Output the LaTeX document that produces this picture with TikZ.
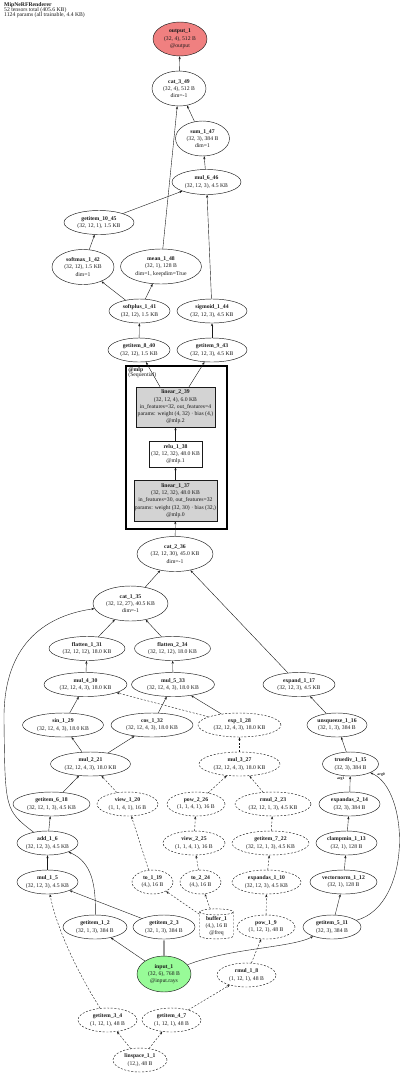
\documentclass[tikz,border=0pt]{standalone}
\usepackage{fontspec}
\setmainfont{Liberation Serif}
\usetikzlibrary{arrows.meta,shapes.geometric}
\definecolor{VizInk}{HTML}{1A1A1A}
\definecolor{VizModule}{HTML}{D3D3D3}
\definecolor{VizOut}{HTML}{F08080}
\definecolor{VizIn}{HTML}{98FB98}
\definecolor{VizPipe}{HTML}{9A9A9A}
\tikzset{
  viz/text/.style={font=\fontsize{5.7}{7.3}\selectfont, align=center, text=VizInk},
  viz/op/.style 2 args={
    viz/text, ellipse, draw=VizInk, line width=.45pt, inner sep=0pt,
    minimum width=#1pt, minimum height=#2pt
  },
  viz/const/.style 2 args={viz/op={#1}{#2}, dash pattern=on 2pt off 1.6pt},
  viz/module/.style 2 args={
    viz/text, rectangle, draw=VizInk, line width=.45pt, fill=VizModule,
    inner xsep=0pt, inner ysep=0pt, minimum width=#1pt, minimum height=#2pt
  },
  viz/cluster/.style={draw=black, line width=1.6pt, inner sep=0pt},
  viz/arrow/.style={
    -{Stealth[length=3pt,width=2.2pt]}, line width=.4pt, draw=VizInk
  },
  viz/dasharrow/.style={viz/arrow, dash pattern=on 2pt off 1.6pt},
  viz/arg/.style={font=\fontsize{3.8}{4}\selectfont\bfseries, text=VizInk, inner sep=.4pt}
}
\begin{document}
\begin{tikzpicture}[x=1pt,y=-1pt]
  \useasboundingbox (0,0) rectangle (400,1074);
  \node[viz/text, font=\fontsize{5.7}{5.4}\selectfont, align=left, anchor=north west, inner sep=0pt]
    (title) at (4,2) {\textbf{MipNeRFRenderer}\\52 tensors total (405.6 KB)\\1124 params (all trainable, 4.4 KB)};
  % module cluster
  \node[viz/cluster, minimum width=101pt, minimum height=163pt] (mlp) at (176.5,447.5) {};
  \node[viz/text, font=\fontsize{5.7}{5.2}\selectfont, align=left, anchor=north west, inner sep=0pt]
    (mlp_label) at ([xshift=3pt,yshift=-2pt]mlp.north west) {\textbf{@mlp}\\(Sequential)};
  \node[viz/op={54}{34}, fill=VizOut] (output_1) at (180,39) {\textbf{output\_1}\\(32, 4), 512 B\\@output};
  \node[viz/op={54}{35}] (cat_3_49) at (179,88.5) {\textbf{cat\_3\_49}\\(32, 4), 512 B\\dim=-1};
  \node[viz/op={54}{35}] (sum_1_47) at (202.5,138.5) {\textbf{sum\_1\_47}\\(32, 3), 384 B\\dim=1};
  \node[viz/op={69}{25}] (mul_6_46) at (206.5,182) {\textbf{mul\_6\_46}\\(32, 12, 3), 4.5 KB};
  \node[viz/op={70}{24}] (getitem_10_45) at (99,222.5) {\textbf{getitem\_10\_45}\\(32, 12, 1), 1.5 KB};
  \node[viz/op={62}{35}] (softmax_1_42) at (83,267) {\textbf{softmax\_1\_42}\\(32, 12), 1.5 KB\\dim=1};
  \node[viz/op={81}{35}] (mean_1_48) at (161,266.5) {\textbf{mean\_1\_48}\\(32, 1), 128 B\\dim=1, keepdim=True};
  \node[viz/op={61}{24}] (softplus_1_41) at (139.5,311) {\textbf{softplus\_1\_41}\\(32, 12), 1.5 KB};
  \node[viz/op={70}{24}] (sigmoid_1_44) at (212,311) {\textbf{sigmoid\_1\_44}\\(32, 12, 3), 4.5 KB};
  \node[viz/op={62}{24}] (getitem_8_40) at (139,350) {\textbf{getitem\_8\_40}\\(32, 12), 1.5 KB};
  \node[viz/op={70}{24}] (getitem_9_43) at (212,350) {\textbf{getitem\_9\_43}\\(32, 12, 3), 4.5 KB};
  \node[viz/module={79}{40}] (linear_2_39) at (175.5,407)
    {\textbf{linear\_2\_39}\\(32, 12, 4), 6.0 KB\\in\_features=32, out\_features=4\\params: weight (4, 32) · bias (4,)\\@mlp.2};
  \node[viz/module={53}{26}, fill=white] (relu_1_38) at (175.5,454) {\textbf{relu\_1\_38}\\(32, 12, 32), 48.0 KB\\@mlp.1};
  \node[viz/module={83}{41}] (linear_1_37) at (175.5,500.5)
    {\textbf{linear\_1\_37}\\(32, 12, 32), 48.0 KB\\in\_features=30, out\_features=32\\params: weight (32, 30) · bias (32,)\\@mlp.0};
  \node[viz/op={76}{35}] (cat_2_36) at (175,554) {\textbf{cat\_2\_36}\\(32, 12, 30), 45.0 KB\\dim=-1};
  \node[viz/op={75}{35}] (cat_1_35) at (130.5,603.5) {\textbf{cat\_1\_35}\\(32, 12, 27), 40.5 KB\\dim=-1};
  \node[viz/op={76}{24}] (flatten_1_31) at (87,648.5) {\textbf{flatten\_1\_31}\\(32, 12, 12), 18.0 KB};
  \node[viz/op={76}{24}] (flatten_2_34) at (172.5,648.5) {\textbf{flatten\_2\_34}\\(32, 12, 12), 18.0 KB};
  \node[viz/op={83}{24}] (mul_4_30) at (85.5,684.5) {\textbf{mul\_4\_30}\\(32, 12, 4, 3), 18.0 KB};
  \node[viz/op={83}{24}] (mul_5_33) at (173,684.5) {\textbf{mul\_5\_33}\\(32, 12, 4, 3), 18.0 KB};
  \node[viz/op={72}{24}] (expand_1_17) at (299,684.5) {\textbf{expand\_1\_17}\\(32, 12, 3), 4.5 KB};
  \node[viz/op={81}{24}] (sin_1_29) at (63,725) {\textbf{sin\_1\_29}\\(32, 12, 4, 3), 18.0 KB};
  \node[viz/op={82}{24}] (cos_1_32) at (152,725) {\textbf{cos\_1\_32}\\(32, 12, 4, 3), 18.0 KB};
  \node[viz/const={83}{24}] (exp_1_28) at (239.5,725) {\textbf{exp\_1\_28}\\(32, 12, 4, 3), 18.0 KB};
  \node[viz/op={60}{24}] (unsqueeze_1_16) at (337,725) {\textbf{unsqueeze\_1\_16}\\(32, 1, 3), 384 B};
  \node[viz/op={80}{24}] (mul_2_21) at (90.5,764) {\textbf{mul\_2\_21}\\(32, 12, 4, 3), 18.0 KB};
  \node[viz/const={81}{24}] (mul_3_27) at (239.5,764) {\textbf{mul\_3\_27}\\(32, 12, 4, 3), 18.0 KB};
  \node[viz/op={56}{24}] (truediv_1_15) at (350.5,764) {\textbf{truediv\_1\_15}\\(32, 3), 384 B};
  \node[viz/op={77}{24}] (getitem_6_18) at (51.5,804) {\textbf{getitem\_6\_18}\\(32, 12, 1, 3), 4.5 KB};
  \node[viz/const={61}{24}] (view_1_20) at (127.5,804) {\textbf{view\_1\_20}\\(1, 1, 4, 1), 16 B};
  \node[viz/const={58}{24}] (pow_2_26) at (196,804) {\textbf{pow\_2\_26}\\(1, 1, 4, 1), 16 B};
  \node[viz/const={76}{24}] (rmul_2_23) at (273,804) {\textbf{rmul\_2\_23}\\(32, 12, 1, 3), 4.5 KB};
  \node[viz/op={61}{24}] (expandas_2_14) at (349.5,804) {\textbf{expandas\_2\_14}\\(32, 3), 384 B};
  \node[viz/op={61}{24}] (add_1_6) at (47.5,843) {\textbf{add\_1\_6}\\(32, 12, 3), 4.5 KB};
  \node[viz/const={62}{24}] (view_2_25) at (194,843) {\textbf{view\_2\_25}\\(1, 1, 4, 1), 16 B};
  \node[viz/const={77}{24}] (getitem_7_22) at (270.5,843) {\textbf{getitem\_7\_22}\\(32, 12, 1, 3), 4.5 KB};
  \node[viz/op={61}{24}] (clampmin_1_13) at (346.5,843) {\textbf{clampmin\_1\_13}\\(32, 1), 128 B};
  \node[viz/op={61}{24}] (mul_1_5) at (47.5,882) {\textbf{mul\_1\_5}\\(32, 12, 3), 4.5 KB};
  \node[viz/const={41}{24}] (to_1_19) at (152.5,882) {\textbf{to\_1\_19}\\(4,), 16 B};
  \node[viz/const={41}{24}] (to_2_24) at (200.5,882) {\textbf{to\_2\_24}\\(4,), 16 B};
  \node[viz/const={69}{24}] (expandas_1_10) at (266.5,882) {\textbf{expandas\_1\_10}\\(32, 12, 3), 4.5 KB};
  \node[viz/op={67}{24}] (vectornorm_1_12) at (343.5,882) {\textbf{vectornorm\_1\_12}\\(32, 1), 128 B};
  \node[viz/op={64}{24}] (getitem_1_2) at (95,927) {\textbf{getitem\_1\_2}\\(32, 1, 3), 384 B};
  \node[viz/op={62}{24}] (getitem_2_3) at (164,927) {\textbf{getitem\_2\_3}\\(32, 1, 3), 384 B};
  \node[viz/text, cylinder, shape border rotate=90, aspect=.25, draw=VizInk, line width=.45pt,
    dash pattern=on 2pt off 1.6pt, inner sep=1pt, minimum width=34pt, minimum height=29pt]
    (buffer_1) at (216.5,926) {\textbf{buffer\_1}\\(4,), 16 B\\@freq};
  \node[viz/const={58}{24}] (pow_1_9) at (266,927) {\textbf{pow\_1\_9}\\(1, 12, 1), 48 B};
  \node[viz/op={58}{24}] (getitem_5_11) at (332,927) {\textbf{getitem\_5\_11}\\(32, 3), 384 B};
  \node[viz/op={54}{36}, fill=VizIn] (input_1) at (164,974) {\textbf{input\_1}\\(32, 6), 768 B\\@input.rays};
  \node[viz/const={59}{24}] (rmul_1_8) at (246.5,975) {\textbf{rmul\_1\_8}\\(1, 12, 1), 48 B};
  \node[viz/const={59}{24}] (getitem_3_4) at (107.5,1020) {\textbf{getitem\_3\_4}\\(1, 12, 1), 48 B};
  \node[viz/const={59}{24}] (getitem_4_7) at (171.5,1020) {\textbf{getitem\_4\_7}\\(1, 12, 1), 48 B};
  \node[viz/const={54}{24}] (linspace_1_1) at (140,1060) {\textbf{linspace\_1\_1}\\(12,), 48 B};
  % edges
  \foreach \a/\b in {cat_3_49/output_1,mean_1_48/cat_3_49,sum_1_47/cat_3_49,mul_6_46/sum_1_47,
      getitem_10_45/mul_6_46,sigmoid_1_44/mul_6_46,softmax_1_42/getitem_10_45,
      softplus_1_41/softmax_1_42,softplus_1_41/mean_1_48,getitem_8_40/softplus_1_41,
      getitem_9_43/sigmoid_1_44,relu_1_38/linear_2_39,linear_1_37/relu_1_38,cat_2_36/linear_1_37,
      cat_1_35/cat_2_36,expand_1_17/cat_2_36,flatten_1_31/cat_1_35,flatten_2_34/cat_1_35,
      mul_4_30/flatten_1_31,mul_5_33/flatten_2_34,sin_1_29/mul_4_30,cos_1_32/mul_5_33,
      exp_1_28/mul_5_33,mul_2_21/sin_1_29,mul_2_21/cos_1_32,unsqueeze_1_16/expand_1_17,
      truediv_1_15/unsqueeze_1_16,getitem_6_18/mul_2_21,clampmin_1_13/expandas_2_14,
      add_1_6/getitem_6_18,mul_1_5/add_1_6,vectornorm_1_12/clampmin_1_13,getitem_2_3/mul_1_5,
      getitem_5_11/vectornorm_1_12,input_1/getitem_1_2}
    \draw[viz/arrow] (\a) -- (\b);
  \foreach \a/\b in {exp_1_28/mul_4_30,mul_3_27/exp_1_28,view_1_20/mul_2_21,pow_2_26/mul_3_27,
      rmul_2_23/mul_3_27,to_1_19/view_1_20,view_2_25/pow_2_26,getitem_7_22/rmul_2_23,
      to_2_24/view_2_25,expandas_1_10/getitem_7_22,buffer_1/to_1_19,buffer_1/to_2_24,
      pow_1_9/expandas_1_10,rmul_1_8/pow_1_9,getitem_4_7/rmul_1_8,linspace_1_1/getitem_3_4,
      linspace_1_1/getitem_4_7}
    \draw[viz/dasharrow] (\a) -- (\b);
  \draw[viz/arrow] ([xshift=-15.5pt]linear_2_39.north) -- (getitem_8_40);
  \draw[viz/arrow] ([xshift=13.5pt]linear_2_39.north) -- (getitem_9_43);
  \draw[viz/arrow] (add_1_6) .. controls (5,810) .. (4,720) .. controls (3,640) and (50,615) .. (cat_1_35);
  \draw[viz/arrow] (getitem_1_2) .. controls (96,885) and (92,862) .. (add_1_6);
  \draw[viz/dasharrow] (getitem_3_4) .. controls (70,960) and (55,920) .. (mul_1_5);
  \draw[viz/arrow, draw=VizPipe, line width=1.3pt] (input_1) -- (getitem_2_3);
  \draw[viz/arrow] (input_1) .. controls (230,948) and (290,948) .. (getitem_5_11);
  \draw[viz/arrow] (getitem_5_11) .. controls (412,905) and (410,790) .. (truediv_1_15)
    node[viz/arg, pos=.97, anchor=west, xshift=3pt] {arg0};
  \draw[viz/arrow] (expandas_2_14) -- (truediv_1_15)
    node[viz/arg, pos=.85, anchor=east, xshift=-5pt] {arg1};
\end{tikzpicture}
\end{document}
